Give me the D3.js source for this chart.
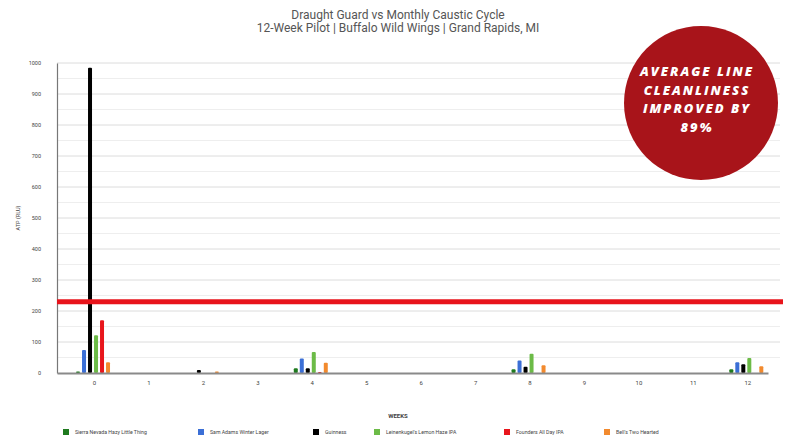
<!DOCTYPE html>
<html><head><meta charset="utf-8">
<script src="https://cdn.jsdelivr.net/npm/d3@7"></script>
<style>body{margin:0;background:#fff}svg{display:block}</style>
</head><body>
<svg id="c" width="791" height="437"></svg>
<script>
const weeks = [0,1,2,3,4,5,6,7,8,9,10,11,12];
const seriesNames = ["Sierra Nevada Hazy Little Thing","Sam Adams Winter Lager","Guinness","Leinenkugel's Lemon Haze IPA","Founders All Day IPA","Bell's Two Hearted"];
const seriesColors = ["#1f7a1f","#3b6fd6","#000000","#6cbb47","#e8161c","#f28a2e"];
const sierra   = [5,0,0,0,15,0,0,0,12,0,0,0,12];
const samAdams = [74,0,0,0,47,0,0,0,40,0,0,0,35];
const guinness = [985,0,10,0,15,0,0,0,20,0,0,0,28];
const leinie   = [122,0,0,0,68,0,0,0,62,0,0,0,48];
const founders = [170,0,0,0,3,0,0,0,0,0,0,0,0];
const bells    = [35,0,5,0,33,0,0,0,25,0,0,0,22];
const allSeries = [sierra,samAdams,guinness,leinie,founders,bells];
const yTicks = [0,100,200,300,400,500,600,700,800,900,1000];
const averageLine = 230;
const titleLines = ["Draught Guard vs Monthly Caustic Cycle","12-Week Pilot | Buffalo Wild Wings | Grand Rapids, MI"];
const badgeLines = ["AVERAGE LINE","CLEANLINESS","IMPROVED BY","89%"];

const svg = d3.select("#c");
const L = 57, R = 768, T = 63, B = 373;
const x = d3.scaleLinear().domain([-0.68, 12.38]).range([L, R]);
const y = d3.scaleLinear().domain([0, 1000]).range([B, T]);

// title
svg.selectAll("text.title").data(titleLines).join("text")
  .attr("x", 398).attr("y", (d,i)=>19 + i*13)
  .attr("text-anchor","middle").attr("font-family","Roboto, sans-serif")
  .attr("font-size", 12).attr("fill","#555").text(d=>d);

// minor gridlines
const minor = d3.range(50, 1000, 100);
svg.append("g").selectAll("line").data(minor).join("line")
  .attr("x1", L).attr("x2", R+12).attr("y1", d=>y(d)).attr("y2", d=>y(d))
  .attr("stroke","#eeeeee").attr("stroke-width",1);
// major gridlines
svg.append("g").selectAll("line").data(yTicks.slice(1)).join("line")
  .attr("x1", L).attr("x2", R+12).attr("y1", d=>y(d)).attr("y2", d=>y(d))
  .attr("stroke","#dcdcdc").attr("stroke-width",1);

// y axis
const yAxis = svg.append("g").attr("transform",`translate(${L},0)`)
  .call(d3.axisLeft(y).tickValues(yTicks).tickFormat(d3.format("d")).tickSize(0).tickPadding(16));
yAxis.select(".domain").attr("stroke","#777").attr("stroke-width",1.2);
yAxis.selectAll("text").attr("font-family","Roboto, sans-serif").attr("font-size",5.5).attr("fill","#444");

svg.append("text").attr("transform",`translate(20,${(T+B)/2}) rotate(-90)`)
  .attr("text-anchor","middle").attr("font-family","Roboto, sans-serif")
  .attr("font-size",5.5).attr("fill","#444").text("ATP (RLU)");

// bars
const barStep = 6, barW = 4;
allSeries.forEach((vals, si) => {
  svg.append("g").selectAll("rect").data(vals.map((v,i)=>({w:weeks[i], v}))
    .filter(d=>d.v>0)).join("rect")
    .attr("x", d => x(d.w) + (si-2.5)*barStep - barW/2 - 1)
    .attr("width", barW)
    .attr("y", d => y(d.v))
    .attr("height", d => B - y(d.v))
    .attr("rx", 1)
    .attr("fill", seriesColors[si]);
});

// x axis
const xAxis = svg.append("g").attr("transform",`translate(0,${B})`)
  .call(d3.axisBottom(x).tickValues(weeks).tickFormat(d3.format("d")).tickSize(0).tickPadding(8));
xAxis.select(".domain").attr("stroke","#8a8a8a").attr("stroke-width",2);
xAxis.selectAll("text").attr("font-family","Roboto, sans-serif").attr("font-size",6).attr("fill","#444");

// average line
svg.append("line").attr("x1", L).attr("x2", R+15)
  .attr("y1", y(averageLine)).attr("y2", y(averageLine))
  .attr("stroke","#e8141b").attr("stroke-width",5);

svg.append("text").attr("x",398).attr("y",418).attr("text-anchor","middle")
  .attr("font-family","Roboto, sans-serif").attr("font-size",6).attr("font-weight","bold")
  .attr("fill","#444").text("WEEKS");

// legend
const legX = [63, 198, 313, 374, 504, 604];
const leg = svg.append("g").selectAll("g").data(seriesNames).join("g")
  .attr("transform",(d,i)=>`translate(${legX[i]},429)`);
leg.append("rect").attr("width",6).attr("height",6).attr("fill",(d,i)=>seriesColors[i]);
leg.append("text").attr("x",12).attr("y",5).attr("font-family","Roboto, sans-serif")
  .attr("font-size",5.2).attr("fill","#444").text(d=>d);

// badge
svg.append("circle").attr("cx",701).attr("cy",103).attr("r",77).attr("fill","#a8141a");
svg.selectAll("text.badge").data(badgeLines).join("text")
  .attr("x",697).attr("y",(d,i)=>76 + i*18.5)
  .attr("text-anchor","middle").attr("font-family","'Open Sans', sans-serif")
  .attr("font-size",13).attr("font-weight","800").attr("font-style","italic")
  .attr("letter-spacing",2).attr("fill","#fff").text(d=>d);
</script>
</body></html>
